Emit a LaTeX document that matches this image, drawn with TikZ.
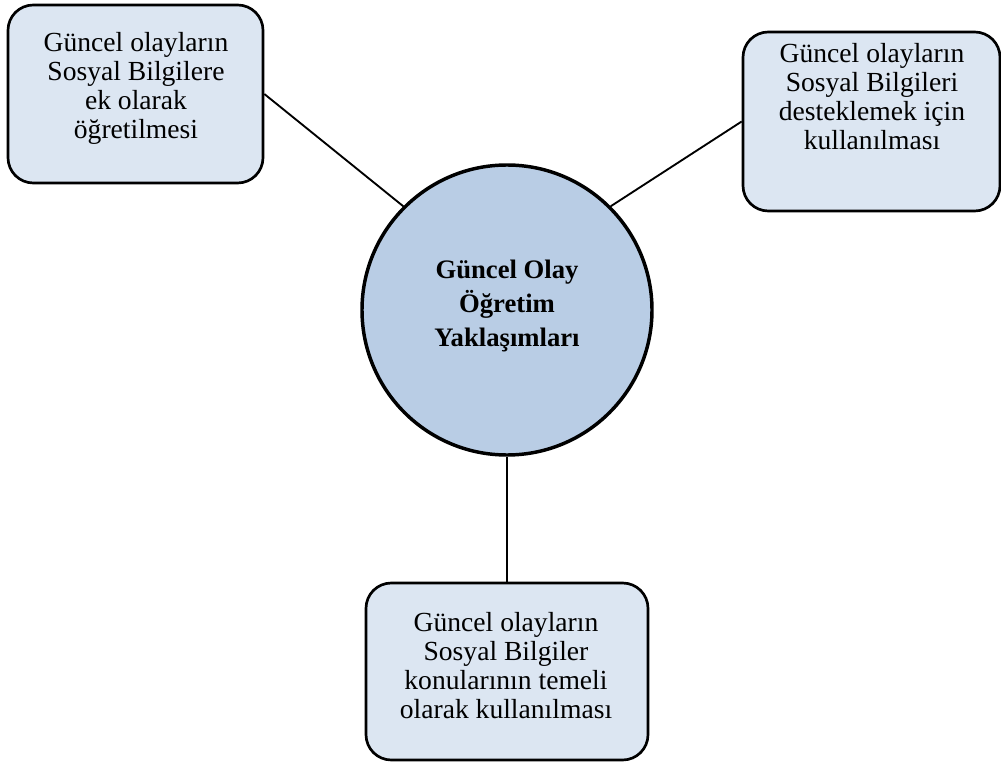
\documentclass[tikz,border=0pt]{standalone}
\usepackage{fontspec}
\setmainfont{Liberation Serif}
\definecolor{boxfill}{HTML}{DCE6F2}
\definecolor{circfill}{HTML}{B9CDE5}
\begin{document}
\begin{tikzpicture}[x=0.75pt,y=-0.75pt,
  sidebox/.style={draw=black,line width=2pt,fill=boxfill,rounded corners=19pt,rectangle,inner sep=0pt},
  centre/.style={draw=black,line width=2.6pt,fill=circfill,circle,inner sep=0pt,minimum size=217.5pt},
  boxtext/.style={align=center,inner sep=0pt,font=\fontsize{20.7}{21.75}\selectfont},
  titletext/.style={align=center,inner sep=0pt,font=\fontsize{20}{25.5}\selectfont\bfseries},
  link/.style={draw=black,line width=1.4pt}]
\useasboundingbox (0,0) rectangle (1001,763);
\node[sidebox,minimum width=191.25pt,minimum height=133.5pt] (tl) at (135.5,94) {};
\node[sidebox,minimum width=192.75pt,minimum height=134.25pt] (tr) at (871.5,121.5) {};
\node[sidebox,minimum width=211.5pt,minimum height=132.75pt] (b) at (507,671.5) {};
\node[centre] (c) at (507,310) {};
\draw[link] (tl.east) -- (c.135);
\draw[link] (tr.west) -- (c.45);
\draw[link] (c.south) -- (b.north);
\node[boxtext] (tlt) at (136,88) {Güncel olayların\\Sosyal Bilgilere\\ek olarak\\öğretilmesi};
\node[boxtext] (trt) at (872,97) {Güncel olayların\\Sosyal Bilgileri\\desteklemek için\\kullanılması};
\node[boxtext] (bt) at (506,666) {Güncel olayların\\Sosyal Bilgiler\\konularının temeli\\olarak kullanılması};
\node[titletext] (ct) at (507,306) {Güncel Olay\\Öğretim\\Yaklaşımları};
\end{tikzpicture}
\end{document}
